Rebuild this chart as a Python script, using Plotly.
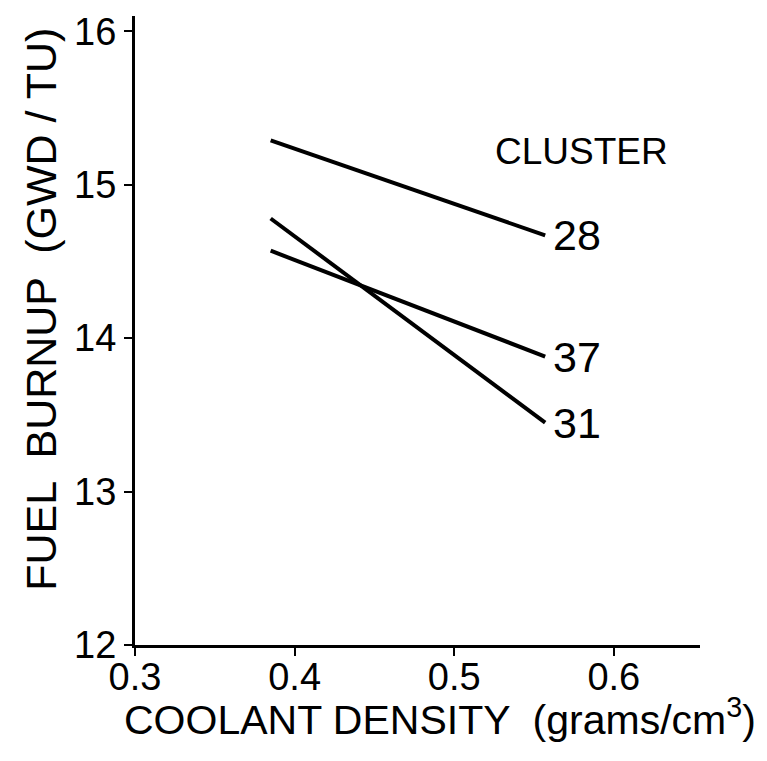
import plotly.graph_objects as go

# Data
density = [0.385, 0.557]
burnup_28 = [15.29, 14.67]
burnup_31 = [14.78, 13.45]
burnup_37 = [14.57, 13.88]
cluster_labels = ["28", "31", "37"]
x_ticks = [0.3, 0.4, 0.5, 0.6]
x_tick_text = ["0.3", "0.4", "0.5", "0.6"]
y_ticks = [12, 13, 14, 15, 16]
y_tick_text = ["12", "13", "14", "15", "16"]
x_title = "COOLANT DENSITY  (grams/cm<sup>3</sup>)"
y_title = "FUEL  BURNUP  (GWD / TU)"

FONT = "Liberation Sans"

fig = go.Figure()
series = [burnup_28, burnup_31, burnup_37]
for lab, vals in zip(cluster_labels, series):
    fig.add_trace(go.Scatter(
        x=density, y=vals, mode="lines",
        line=dict(color="black", width=4),
        showlegend=False, name=lab,
    ))
    fig.add_annotation(x=density[-1], y=vals[-1], text=lab, showarrow=False,
                       xanchor="left", yanchor="middle", xshift=6,
                       font=dict(family=FONT, size=43, color="black"))

fig.add_annotation(x=0.58, y=15.22, text="CLUSTER", showarrow=False,
                   font=dict(family=FONT, size=37, color="black"),
                   xanchor="center", yanchor="middle")

# axis titles
fig.add_annotation(xref="paper", yref="paper", x=0.54, y=0, yshift=-72,
                   xanchor="center", yanchor="middle", showarrow=False,
                   text=x_title, font=dict(family=FONT, size=41, color="black"))
fig.add_annotation(xref="paper", yref="paper", x=0, xshift=-94, y=0.533,
                   xanchor="center", yanchor="middle", showarrow=False,
                   textangle=-90,
                   text=y_title, font=dict(family=FONT, size=43, color="black"))

fig.update_layout(
    width=767, height=761,
    paper_bgcolor="white", plot_bgcolor="white",
    margin=dict(l=127, r=75, t=8, b=124, autoexpand=False),
    font=dict(family=FONT, color="black"),
)
fig.update_xaxes(
    range=[0.3, 0.654], tickvals=x_ticks, ticktext=x_tick_text,
    showline=True, linecolor="black", linewidth=3,
    ticks="outside", ticklen=8, tickwidth=2, tickcolor="black",
    showgrid=False, zeroline=False, automargin=False,
    tickfont=dict(family=FONT, size=38), ticklabelstandoff=-12,
)
fig.update_yaxes(
    range=[12, 16.1], tickvals=y_ticks, ticktext=y_tick_text,
    showline=True, linecolor="black", linewidth=3,
    ticks="outside", ticklen=8, tickwidth=2, tickcolor="black",
    showgrid=False, zeroline=False, automargin=False,
    tickfont=dict(family=FONT, size=38),
)

fig.write_html("out.html")
